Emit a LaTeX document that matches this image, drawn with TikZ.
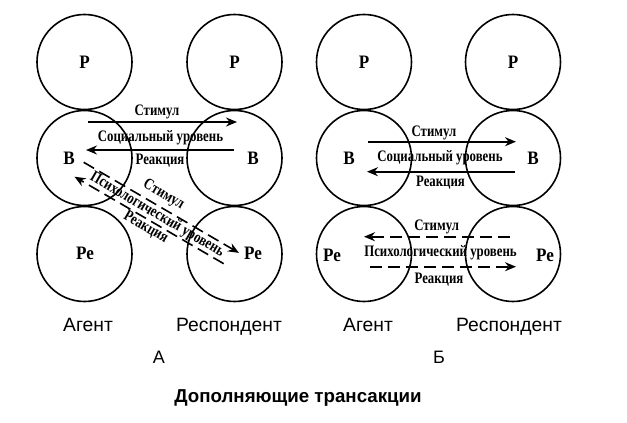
\documentclass[tikz,border=0pt]{standalone}
\usepackage{fontspec}
\setmainfont{Liberation Serif}
\setsansfont{Liberation Sans}
\newfontfamily\lblfont[FakeStretch=0.8]{Liberation Serif}
\newfontfamily\egofont[FakeStretch=0.9]{Liberation Serif}
\usetikzlibrary{arrows.meta}
\begin{document}
\begin{tikzpicture}[x=1pt,y=-1pt,
 ego/.style={circle,draw,line width=1.6pt,minimum size=95pt,inner sep=0pt},
 egolbl/.style={font=\egofont\bfseries\fontsize{19}{19}\selectfont,inner sep=0pt},
 lvl/.style={font=\lblfont\bfseries\fontsize{16}{16}\selectfont,inner sep=0pt},
 role/.style={font=\sffamily\fontsize{19.3}{19.3}\selectfont,inner sep=0pt,anchor=base},
 tr/.style={line width=1.6pt,-{Stealth[length=11pt,width=9pt]}},
 psy/.style={tr,dash pattern=on 12pt off 6pt},
]
\useasboundingbox (0,0) rectangle (627,423);
% ---- diagram A ----
\node[ego] (aP1) at (84.5,62) {};
\node[ego] (aB1) at (84.5,158) {};
\node[ego] (aR1) at (84.5,254) {};
\node[ego] (aP2) at (234.5,62) {};
\node[ego] (aB2) at (234.5,158) {};
\node[ego] (aR2) at (234.5,254) {};
\node[egolbl] (aP1l) at (aP1) {Р};
\node[egolbl] (aP2l) at (aP2) {Р};
\node[egolbl] (aB1l) at (69,158) {В};
\node[egolbl] (aB2l) at (253,158) {В};
\node[egolbl] (aR1l) at (85,253) {Ре};
\node[egolbl] (aR2l) at (253,253) {Ре};
\coordinate (aSs) at (88,122);
\coordinate (aSe) at (237,122);
\coordinate (aRs) at (234,150);
\coordinate (aRe) at (86,150);
\draw[tr] (aSs) -- (aSe);
\draw[tr] (aRs) -- (aRe);
\node[lvl,anchor=base] (aSt) at (157,115) {Стимул};
\node[lvl,anchor=base] (aSo) at (160.5,141.5) {Социальный уровень};
\node[lvl,anchor=base] (aRt) at (160,164) {Реакция};
\coordinate (aPSs) at (83.7,162.3);
\coordinate (aPSe) at (239,252.9);
\coordinate (aPRs) at (223.7,263.7);
\coordinate (aPRe) at (74.5,176.7);
\draw[psy] (aPSs) -- (aPSe);
\draw[psy] (aPRs) -- (aPRe);
\node[lvl,rotate=-30.25] (aPSt) at (163.6,195) {Стимул};
\node[lvl,rotate=-30.25] (aPSo) at (157.1,215) {Психологический уровень};
\node[lvl,rotate=-30.25] (aPRt) at (145.8,227.5) {Реакция};
\node[role] (aAg) at (88,331) {Агент};
\node[role] (aRsp) at (229,331) {Респондент};
\node[role,font=\sffamily\fontsize{18}{18}\selectfont] (aLet) at (159,363) {А};
% ---- diagram B ----
\node[ego] (bP1) at (364,62) {};
\node[ego] (bB1) at (364,158) {};
\node[ego] (bR1) at (364,254) {};
\node[ego] (bP2) at (513,62) {};
\node[ego] (bB2) at (513,158) {};
\node[ego] (bR2) at (513,254) {};
\node[egolbl] (bP1l) at (bP1) {Р};
\node[egolbl] (bP2l) at (bP2) {Р};
\node[egolbl] (bB1l) at (349,158) {В};
\node[egolbl] (bB2l) at (533,158) {В};
\node[egolbl] (bR1l) at (332,255) {Ре};
\node[egolbl] (bR2l) at (545,255) {Ре};
\coordinate (bSs) at (368,141.7);
\coordinate (bSe) at (516,141.7);
\coordinate (bRs) at (515,171.7);
\coordinate (bRe) at (367,171.7);
\draw[tr] (bSs) -- (bSe);
\draw[tr] (bRs) -- (bRe);
\node[lvl,anchor=base] (bSt) at (434,136.7) {Стимул};
\node[lvl,anchor=base] (bSo) at (440,161.7) {Социальный уровень};
\node[lvl,anchor=base] (bRt) at (440.5,186.7) {Реакция};
\coordinate (bPSs) at (510,236.7);
\coordinate (bPSe) at (364,236.7);
\coordinate (bPRs) at (370,266.7);
\coordinate (bPRe) at (516,266.7);
\draw[psy] (bPSs) -- (bPSe);
\draw[psy] (bPRs) -- (bPRe);
\node[lvl,anchor=base] (bPSt) at (436.7,230) {Стимул};
\node[lvl,anchor=base] (bPSo) at (440.5,256.7) {Психологический уровень};
\node[lvl,anchor=base] (bPRt) at (439,283) {Реакция};
\node[role] (bAg) at (368,331) {Агент};
\node[role] (bRsp) at (509,331) {Респондент};
\node[role,font=\sffamily\fontsize{18}{18}\selectfont] (bLet) at (439,363) {Б};
% ---- title ----
\node[role,font=\sffamily\bfseries\fontsize{18.7}{18.7}\selectfont] (title) at (298,402.5) {Дополняющие трансакции};
\end{tikzpicture}
\end{document}
